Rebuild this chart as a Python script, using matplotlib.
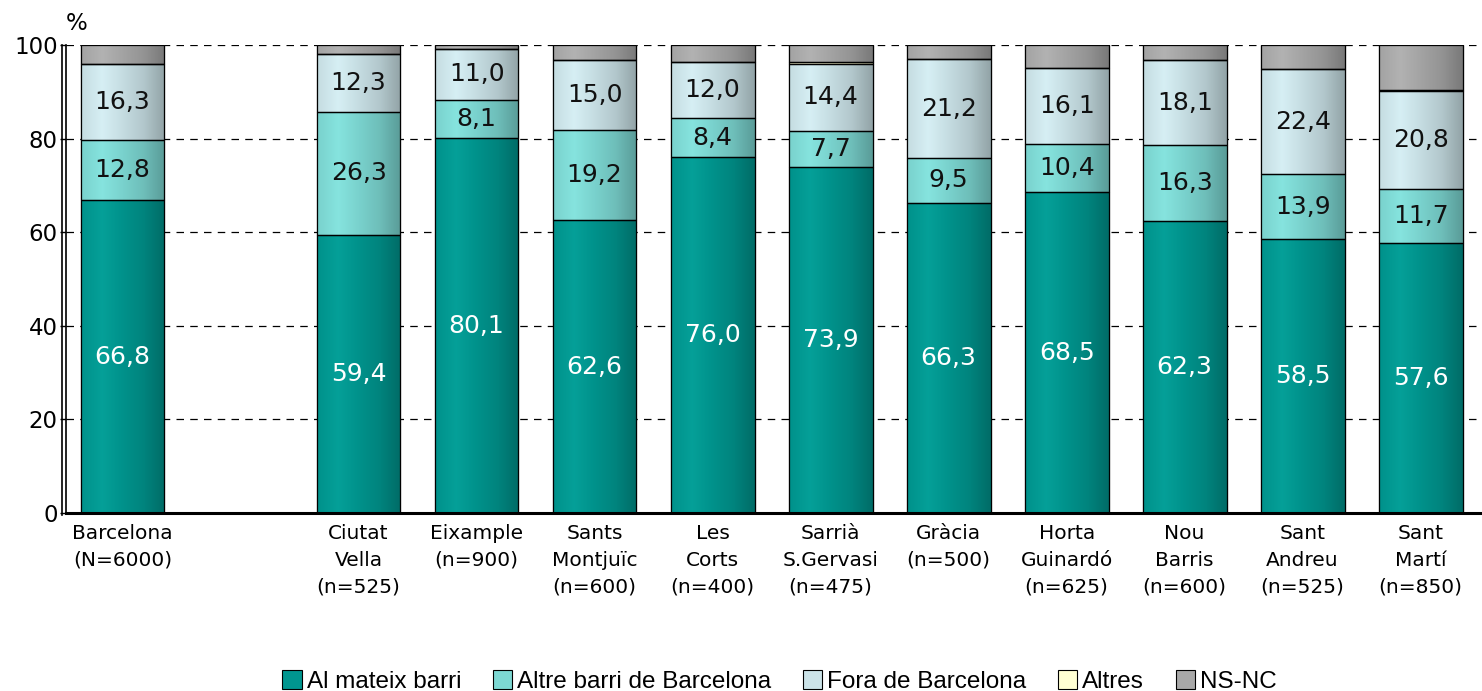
import numpy as np
import matplotlib.pyplot as plt
from matplotlib.colors import LinearSegmentedColormap, to_rgb
from matplotlib.patches import Patch
from matplotlib.lines import Line2D

# ----- Dades -----
districtes = ["Barcelona\n(N=6000)", "Ciutat\nVella\n(n=525)", "Eixample\n(n=900)",
              "Sants\nMontjuïc\n(n=600)", "Les\nCorts\n(n=400)", "Sarrià\nS.Gervasi\n(n=475)",
              "Gràcia\n(n=500)", "Horta\nGuinardó\n(n=625)", "Nou\nBarris\n(n=600)",
              "Sant\nAndreu\n(n=525)", "Sant\nMartí\n(n=850)"]
posicions = [0, 2, 3, 4, 5, 6, 7, 8, 9, 10, 11]
mateix_barri = [66.8, 59.4, 80.1, 62.6, 76.0, 73.9, 66.3, 68.5, 62.3, 58.5, 57.6]
altre_barri = [12.8, 26.3, 8.1, 19.2, 8.4, 7.7, 9.5, 10.4, 16.3, 13.9, 11.7]
fora_bcn = [16.3, 12.3, 11.0, 15.0, 12.0, 14.4, 21.2, 16.1, 18.1, 22.4, 20.8]
altres = [0.0, 0.0, 0.0, 0.0, 0.0, 0.4, 0.0, 0.0, 0.0, 0.0, 0.3]
ns_nc = [4.1, 2.0, 0.8, 3.2, 3.6, 3.6, 3.0, 5.0, 3.3, 5.2, 9.6]

series = [
    ("Al mateix barri", mateix_barri, "#00968f", "white", True),
    ("Altre barri de Barcelona", altre_barri, "#7dd8d3", "#111111", True),
    ("Fora de Barcelona", fora_bcn, "#cbe3e8", "#111111", True),
    ("Altres", altres, "#ffffd2", "#111111", False),
    ("NS-NC", ns_nc, "#a8a8a8", "#111111", False),
]

plt.rcParams["font.family"] = "DejaVu Sans"

fig = plt.figure(figsize=(14.82, 6.91), dpi=100)
ax = fig.add_axes([0.0445, 0.2576, 0.9555, 0.6773])

AMPLE = 0.71


def ombrejar(rect, color):
    # degradat horitzontal per donar aspecte de cilindre
    x, y = rect.get_x(), rect.get_y()
    w, h = rect.get_width(), rect.get_height()
    if h <= 0:
        return
    c = np.array(to_rgb(color))
    clar = np.clip(c * 1.03 + 0.02, 0, 1)
    fosc = c * 0.72
    cmap = LinearSegmentedColormap.from_list("g", [c * 0.97, clar, c * 0.97, c * 0.88, fosc])
    grad = np.linspace(0, 1, 128).reshape(1, -1)
    ax.imshow(grad, extent=[x, x + w, y, y + h], cmap=cmap, aspect="auto",
              interpolation="bicubic", zorder=2.1)


base = np.zeros(len(posicions))
handles = []
for nom, valors, color, col_text, etiqueta in series:
    valors = np.array(valors)
    barres = ax.bar(posicions, valors, AMPLE, bottom=base, color=color,
                    edgecolor="black", linewidth=0.8, zorder=2)
    for rect in barres:
        ombrejar(rect, color)
    ax.bar(posicions, valors, AMPLE, bottom=base, fill=False,
           edgecolor="black", linewidth=0.9, zorder=2.2)
    if etiqueta:
        for xp, b, v in zip(posicions, base, valors):
            ax.text(xp, b + v / 2, f"{v:.1f}".replace(".", ","), ha="center",
                    va="center", color=col_text, fontsize=18, zorder=3)
    base = base + valors
    handles.append(Patch(facecolor=color, edgecolor="black", linewidth=0.8, label=nom))

ax.set_xlim(-0.48, 11.52)
ax.set_ylim(0, 100)
ax.set_yticks([0, 20, 40, 60, 80, 100])
ax.tick_params(axis="y", labelsize=16.5, length=4, width=1, pad=2)
ax.set_xticks(posicions)
ax.set_xticklabels(districtes, fontsize=14.5, linespacing=1.5)
ax.tick_params(axis="x", length=0, pad=8)

for yv in [20, 40, 60, 80, 100]:
    ax.axhline(yv, color="black", linestyle=(0, (6, 5)), linewidth=0.9, zorder=1)

for s in ["top", "right"]:
    ax.spines[s].set_visible(False)
ax.spines["left"].set_linewidth(1.2)
ax.spines["bottom"].set_linewidth(2.2)

# doble línia de la paret esquerra
xw = 0.0445 - 3.5 / 1482
fig.add_artist(Line2D([xw, xw], [0.2576 - 2 / 691, 0.9349], color="black", linewidth=1.2))

fig.text(0.052, 0.966, "%", fontsize=16.5, ha="center", va="center")

fig.legend(handles=handles, loc="center", bbox_to_anchor=(0.526, 0.014),
           ncol=5, frameon=False, handlelength=0.8, handleheight=0.8,
           handletextpad=0.2, columnspacing=1.3,
           prop={"family": "Liberation Sans", "size": 17.5})

fig.savefig("out.png", dpi=100)
